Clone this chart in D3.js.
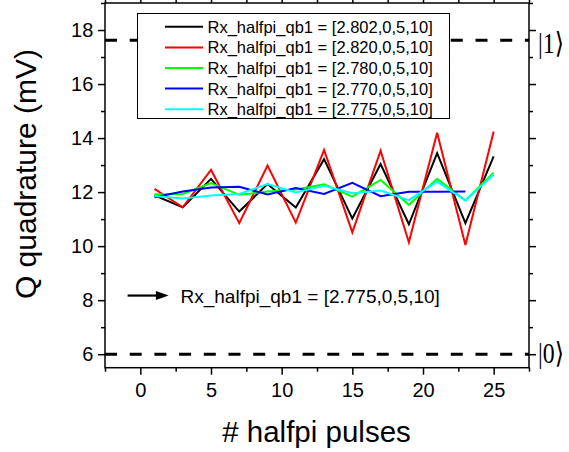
<!DOCTYPE html>
<html>
<head>
<meta charset="utf-8">
<script src="https://cdn.jsdelivr.net/npm/d3@7"></script>
<style>
  html, body { margin: 0; padding: 0; background: #fff; }
  svg { display: block; }
  text { font-family: "Liberation Sans", Arial, sans-serif; fill: #000; }
</style>
</head>
<body>
<svg id="chart" width="569" height="452"></svg>
<script>
// Pulse counts (x) shared by every run
const pulses = [1, 3, 5, 7, 9, 11, 13, 15, 17, 19, 21, 23, 25];

// Measured Q quadrature (mV) for each amplitude setting
const runLabels = [
  "Rx_halfpi_qb1 = [2.802,0,5,10]",
  "Rx_halfpi_qb1 = [2.820,0,5,10]",
  "Rx_halfpi_qb1 = [2.780,0,5,10]",
  "Rx_halfpi_qb1 = [2.770,0,5,10]",
  "Rx_halfpi_qb1 = [2.775,0,5,10]"
];
const runColors = ["#000000", "#ff0000", "#00ff00", "#0000ff", "#00ffff"];
const q2802 = [11.88, 11.44, 12.49, 11.28, 12.30, 11.43, 13.22, 11.02, 13.04, 10.81, 13.44, 10.85, 13.32];
const q2820 = [12.12, 11.44, 12.82, 10.85, 12.98, 10.87, 13.56, 10.51, 13.53, 10.14, 14.20, 10.04, 14.24];
const q2780 = [11.92, 11.93, 12.33, 11.90, 12.02, 12.10, 12.29, 11.83, 12.45, 11.53, 12.49, 11.69, 12.72];
const q2770 = [11.81, 12.02, 12.17, 12.20, 11.91, 12.15, 11.93, 12.34, 11.85, 12.01, 12.01, 12.02];
const q2775 = [11.86, 11.76, 11.87, 11.93, 12.30, 11.99, 12.23, 11.96, 12.06, 11.70, 12.39, 11.69, 12.64];
const runValues = [q2802, q2820, q2780, q2770, q2775];

// Axis ticks
const xTicks = [0, 5, 10, 15, 20, 25];
const xMinorTicks = [-2.5, 2.5, 7.5, 12.5, 17.5, 22.5, 27.5];
const yTicks = [6, 8, 10, 12, 14, 16, 18];
const yMinorTicks = [7, 9, 11, 13, 15, 17, 19];

// Reference levels for the qubit states
const stateLevels = [17.62, 6];
const stateLabels = ["|1\u27E9", "|0\u27E9"];

// Highlighted run annotation
const markedLabel = "Rx_halfpi_qb1 = [2.775,0,5,10]";

const svg = d3.select("#chart");
const plot = { left: 105, right: 529, top: 3, bottom: 367.7 };

const x = d3.scaleLinear().domain([-2.5, 27.5]).range([plot.left, plot.right]);
const y = d3.scaleLinear().domain([5.5, 19]).range([plot.bottom, plot.top]);

// Dashed state reference lines
svg.append("g").selectAll("line").data(stateLevels).join("line")
  .attr("x1", plot.left).attr("x2", plot.right)
  .attr("y1", d => y(d)).attr("y2", d => y(d))
  .attr("stroke", "#000").attr("stroke-width", 3)
  .attr("stroke-dasharray", "12,12.7");

// State labels to the right of the frame
svg.append("g").selectAll("text").data(stateLevels).join("text")
  .attr("x", 538)
  .attr("y", (d, i) => y(d) + (i === 0 ? 12.5 : 8.6))
  .attr("textLength", 26)
  .attr("lengthAdjust", "spacingAndGlyphs")
  .style("font-family", "'Liberation Serif', 'Times New Roman', 'DejaVu Serif', serif")
  .style("font-size", "29px")
  .text((d, i) => stateLabels[i]);

// Data lines
const line = d3.line().x((d, i) => x(pulses[i])).y(d => y(d));
svg.append("g").selectAll("path").data(runValues).join("path")
  .attr("d", d => line(d))
  .attr("fill", "none")
  .attr("stroke", (d, i) => runColors[i])
  .attr("stroke-width", 2)
  .attr("stroke-linejoin", "miter");

// Axes (outward ticks on all four sides, labels on bottom and left only)
function styleAxis(g) {
  g.select(".domain").remove();
  g.selectAll(".tick line").attr("stroke", "#000").attr("stroke-width", 1.5);
}
svg.append("g").attr("transform", `translate(0,${plot.bottom})`)
  .call(d3.axisBottom(x).tickValues(xTicks).tickSize(7).tickPadding(8.5).tickFormat(d3.format("d")))
  .call(styleAxis)
  .call(g => g.selectAll("text").style("font-size", "20px").style("font-family", "'Liberation Sans', Arial, sans-serif"));
svg.append("g").attr("transform", `translate(0,${plot.bottom})`)
  .call(d3.axisBottom(x).tickValues(xMinorTicks).tickSize(4).tickFormat(""))
  .call(styleAxis);
svg.append("g").attr("transform", `translate(0,${plot.top})`)
  .call(d3.axisTop(x).tickValues(xTicks).tickSize(7).tickFormat(""))
  .call(styleAxis);
svg.append("g").attr("transform", `translate(0,${plot.top})`)
  .call(d3.axisTop(x).tickValues(xMinorTicks).tickSize(4).tickFormat(""))
  .call(styleAxis);

svg.append("g").attr("transform", `translate(${plot.left},0)`)
  .call(d3.axisLeft(y).tickValues(yTicks).tickSize(7).tickPadding(4.7).tickFormat(d3.format("d")))
  .call(styleAxis)
  .call(g => g.selectAll("text").style("font-size", "20px").style("font-family", "'Liberation Sans', Arial, sans-serif"));
svg.append("g").attr("transform", `translate(${plot.left},0)`)
  .call(d3.axisLeft(y).tickValues(yMinorTicks).tickSize(4).tickFormat(""))
  .call(styleAxis);
svg.append("g").attr("transform", `translate(${plot.right},0)`)
  .call(d3.axisRight(y).tickValues(yTicks).tickSize(7).tickFormat(""))
  .call(styleAxis);
svg.append("g").attr("transform", `translate(${plot.right},0)`)
  .call(d3.axisRight(y).tickValues(yMinorTicks).tickSize(4).tickFormat(""))
  .call(styleAxis);

// Frame
svg.append("rect")
  .attr("x", plot.left).attr("y", plot.top)
  .attr("width", plot.right - plot.left).attr("height", plot.bottom - plot.top)
  .attr("fill", "none").attr("stroke", "#000").attr("stroke-width", 1.5);

// Legend
const legend = svg.append("g").attr("transform", "translate(137.5,13.5)");
legend.append("rect")
  .attr("width", 312).attr("height", 105)
  .attr("fill", "#fff").attr("stroke", "#000").attr("stroke-width", 1);
const rows = legend.selectAll("g.row").data(runLabels).join("g")
  .attr("class", "row")
  .attr("transform", (d, i) => `translate(0,${13.3 + i * 20.6})`);
rows.append("line")
  .attr("x1", 27.5).attr("x2", 65.5)
  .attr("stroke", (d, i) => runColors[i]).attr("stroke-width", 2);
rows.append("text")
  .attr("x", 70).attr("y", 6)
  .style("font-size", "16.5px")
  .text(d => d);

// Arrow annotation pointing at the highlighted run
const ann = svg.append("g");
const ay = y(8.17);
ann.append("line")
  .attr("x1", x(-0.9)).attr("x2", x(1.3))
  .attr("y1", ay).attr("y2", ay)
  .attr("stroke", "#000").attr("stroke-width", 2.2);
ann.append("path")
  .attr("d", `M${x(1.1)},${ay - 4.5} L${x(2.0)},${ay} L${x(1.1)},${ay + 4.5} Z`)
  .attr("fill", "#000");
ann.append("text")
  .attr("x", 180.5).attr("y", ay + 7)
  .style("font-size", "19px")
  .text(markedLabel);

// Axis titles
svg.append("text")
  .attr("transform", "translate(36,174) rotate(-90)")
  .attr("text-anchor", "middle")
  .style("font-size", "30px")
  .text("Q quadrature (mV)");
svg.append("text")
  .attr("x", 316.5).attr("y", 442)
  .attr("text-anchor", "middle")
  .style("font-size", "29.5px")
  .text("# halfpi pulses");
</script>
</body>
</html>
